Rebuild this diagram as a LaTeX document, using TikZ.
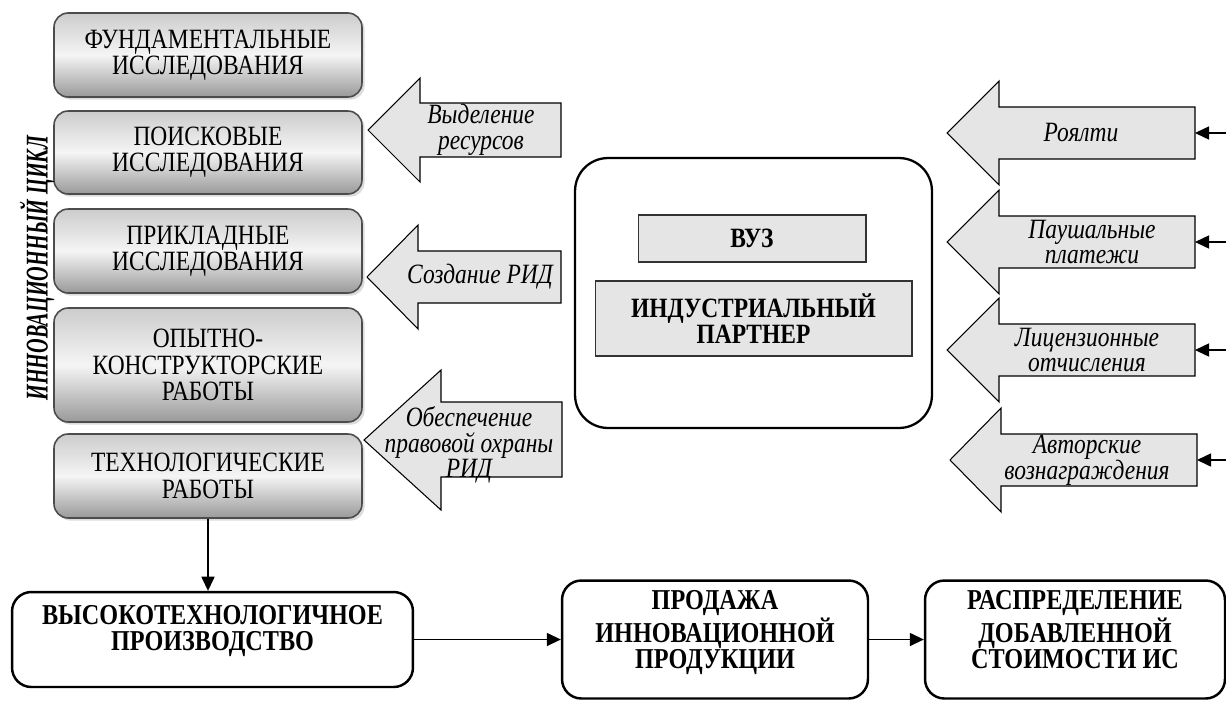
\documentclass[tikz,border=0pt]{standalone}
\usepackage{fontspec}
\setmainfont[FakeStretch=0.84]{Liberation Serif}
\newfontfamily\cyclefont[FakeStretch=0.64]{Liberation Serif}
\newcommand\diagfont{\fontsize{15.9}{15}\selectfont}
\usetikzlibrary{arrows.meta,shadows}

\begin{document}
\begin{tikzpicture}[x=0.02cm,y=-0.02cm,
    stage/.style={draw=black!70, line width=0.9pt, rounded corners=8pt,
        top color=gray!40, bottom color=gray!80, middle color=gray!8,
        drop shadow={shadow xshift=1.5pt, shadow yshift=-1.5pt, fill=gray!55},
        minimum width=6.16cm, align=center, font=\diagfont},
    flow/.style={draw=black, fill=gray!20, line width=0.6pt},
    flowtext/.style={align=center, inner sep=0pt, font=\itshape\fontsize{15.9}{14.6}\selectfont},
    member/.style={draw=black!80, fill=gray!20, line width=0.6pt, align=center,
        font=\bfseries\fontsize{15.9}{15}\selectfont},
    result/.style={draw, line width=1.4pt, rounded corners=11pt, align=center,
        font=\bfseries\fontsize{16.4}{15}\selectfont},
    link/.style={line width=0.6pt, -{Triangle[length=8pt,width=7.5pt]}}]
    \useasboundingbox (0,0) rectangle (1226,700);

    % innovation cycle
    \node[stage, minimum height=1.68cm] (fund) at (208,55) {ФУНДАМЕНТАЛЬНЫЕ\\ИССЛЕДОВАНИЯ};
    \node[stage, minimum height=1.66cm] (search) at (208,152.5) {ПОИСКОВЫЕ\\ИССЛЕДОВАНИЯ};
    \node[stage, minimum height=1.68cm] (applied) at (208,251) {ПРИКЛАДНЫЕ\\ИССЛЕДОВАНИЯ};
    \node[stage, minimum height=2.28cm] (design) at (208,365) {ОПЫТНО-\\КОНСТРУКТОРСКИЕ\\РАБОТЫ};
    \node[stage, minimum height=1.68cm] (tech) at (208,476) {ТЕХНОЛОГИЧЕСКИЕ\\РАБОТЫ};
    \node[rotate=90, inner sep=1pt, font=\cyclefont\bfseries\itshape\fontsize{18}{18}\selectfont] (cycle) at (37,268) {ИННОВАЦИОННЫЙ ЦИКЛ};

    % arrows into the cycle
    \draw[flow] (368,130) -- (420,78) -- (420,103) -- (561,103) -- (561,157) -- (420,157) -- (420,182) -- cycle;
    \node[flowtext] (alloc) at (481,130) {Выделение\\ресурсов};
    \draw[flow] (367,277) -- (418,225) -- (418,251) -- (561,251) -- (561,303) -- (418,303) -- (418,329) -- cycle;
    \node[flowtext] (create) at (480,277) {Создание РИД};
    \draw[flow] (364,440) -- (441,370) -- (441,402) -- (562,402) -- (562,477) -- (441,477) -- (441,510) -- cycle;
    \node[flowtext] (protect) at (469,445) {Обеспечение\\правовой охраны\\РИД};

    % partners
    \node[draw, line width=1.3pt, rounded corners=0.66cm, minimum width=7.14cm, minimum height=5.4cm] (hub) at (753.5,293) {};
    \node[member, minimum width=4.56cm, minimum height=0.94cm] (uni) at (752,238.5) {ВУЗ};
    \node[member, minimum width=6.34cm, minimum height=1.5cm] (partner) at (753.5,318.5) {ИНДУСТРИАЛЬНЫЙ\\ПАРТНЕР};

    % payments
    \draw[flow] (947,133) -- (999,81) -- (999,107) -- (1195,107) -- (1195,159) -- (999,159) -- (999,185) -- cycle;
    \node[flowtext] (royalty) at (1081,133) {Роялти};
    \draw[flow] (947,242) -- (999,190) -- (999,216) -- (1195,216) -- (1195,268) -- (999,268) -- (999,294) -- cycle;
    \node[flowtext] (lump) at (1092,242) {Паушальные\\платежи};
    \draw[flow] (947,350) -- (999,298) -- (999,324) -- (1195,324) -- (1195,376) -- (999,376) -- (999,402) -- cycle;
    \node[flowtext] (licence) at (1087,350) {Лицензионные\\отчисления};
    \draw[flow] (950,460) -- (1001,408) -- (1001,434) -- (1197,434) -- (1197,486) -- (1001,486) -- (1001,512) -- cycle;
    \node[flowtext] (author) at (1087,460) {Авторские\\вознаграждения};

    \coordinate (royaltyin) at (1195,133);
    \coordinate (lumpin) at (1195,242);
    \coordinate (licencein) at (1195,350);
    \coordinate (authorin) at (1197,460);
    \coordinate (royaltysrc) at (1240,133);
    \coordinate (lumpsrc) at (1240,242);
    \coordinate (licencesrc) at (1240,350);
    \coordinate (authorsrc) at (1240,460);
    \draw[link] (royaltysrc) -- (royaltyin);
    \draw[link] (lumpsrc) -- (lumpin);
    \draw[link] (licencesrc) -- (licencein);
    \draw[link] (authorsrc) -- (authorin);

    % production chain
    \node[result, minimum width=8.02cm, minimum height=1.9cm] (prod) at (212.5,639.5) {ВЫСОКОТЕХНОЛОГИЧНОЕ\\ПРОИЗВОДСТВО\\[-2pt]};
    \node[result, minimum width=6.12cm, minimum height=2.36cm] (sale) at (715,639.5) {ПРОДАЖА\\ИННОВАЦИОННОЙ\\ПРОДУКЦИИ\\[-4pt]};
    \node[result, minimum width=6.0cm, minimum height=2.36cm] (share) at (1075,639.5) {РАСПРЕДЕЛЕНИЕ\\ДОБАВЛЕННОЙ\\СТОИМОСТИ ИС\\[-4pt]};
    \draw[link] (tech.south) -- (tech.south |- prod.north);
    \draw[link] (prod.east) -- (sale.west);
    \draw[link] (sale.east) -- (share.west);
\end{tikzpicture}
\end{document}
